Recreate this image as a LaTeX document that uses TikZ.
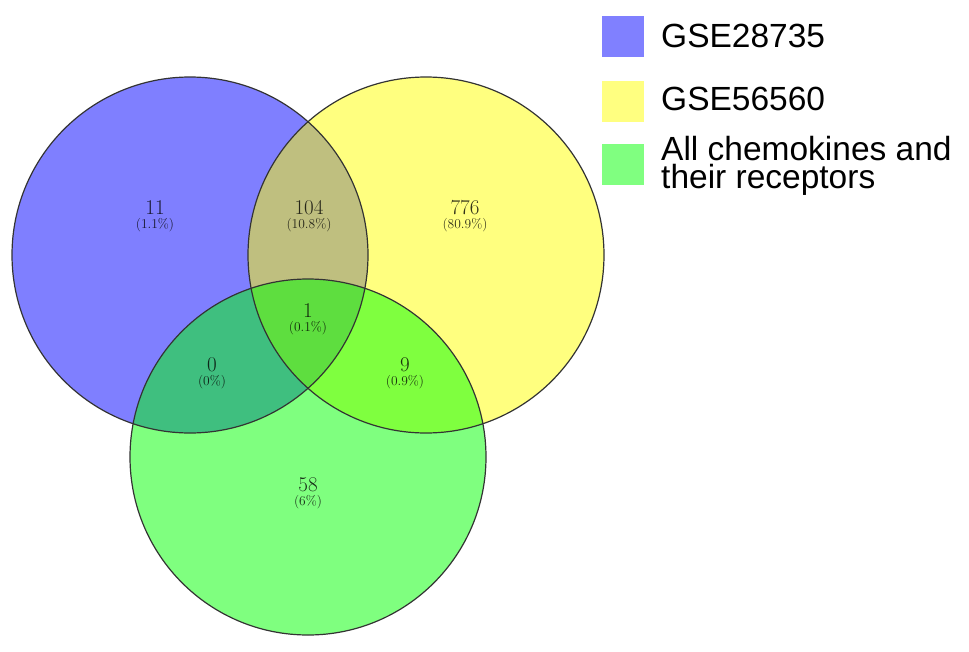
\documentclass[tikz,border=0pt]{standalone}
\usepackage{fontspec}
\newfontfamily\legendfont{Liberation Sans}
\definecolor{setA}{RGB}{0,0,255}
\definecolor{setB}{RGB}{255,255,0}
\definecolor{setC}{RGB}{0,255,0}
\begin{document}
\begin{tikzpicture}[x=1pt, y=-1pt,
    setfill/.style={fill opacity=0.5},
    count/.style={font=\fontsize{21}{21}\selectfont, inner sep=0pt, text=black, text opacity=0.8},
    share/.style={font=\fontsize{13.5}{13.5}\selectfont, inner sep=0pt, text=black, text opacity=0.8},
    legendbox/.style={minimum width=42pt, minimum height=41pt, inner sep=0pt},
    legendtext/.style={font=\legendfont\fontsize{33.5}{28}\selectfont, anchor=base west, inner sep=0pt, align=left}]
  \useasboundingbox (0,0) rectangle (969,651);

  \pgfmathsetmacro{\radius}{178}
  % the three sets, lightest first
  \fill[setA, setfill] (190,255) circle (\radius pt);
  \fill[setB, setfill] (426,255) circle (\radius pt);
  \fill[setC, setfill] (308,457) circle (\radius pt);
  % outlines on top
  \foreach \c in {(190,255), (426,255), (308,457)}
    \draw[black!80, line width=1.2pt] \c circle (\radius pt);

  % counts and shares of every region
  \foreach \i/\x/\y/\n/\p in {a/155/208/11/1.1, ab/309/208/104/10.8, b/465/208/776/80.9,
      abc/308/311/1/0.1, ac/212/365/0/0, bc/405/365/9/0.9, c/308/485/58/6}
  {
    \node[count] (n\i) at (\x,\y) {\n};
    \node[share] (p\i) at (\x,\y+17.5) {(\p\%)};
  };

  % legend
  \node[legendbox, fill=setA!50] (keyA) at (623,36.5) {};
  \node[legendbox, fill=setB!50] (keyB) at (623,101) {};
  \node[legendbox, fill=setC!50] (keyC) at (623,164.5) {};
  \node[legendtext] (textA) at (661,47) {GSE28735};
  \node[legendtext] (textB) at (661,110) {GSE56560};
  \node[legendtext] (textC) at (661,188) {All chemokines and\\their receptors};
\end{tikzpicture}
\end{document}
